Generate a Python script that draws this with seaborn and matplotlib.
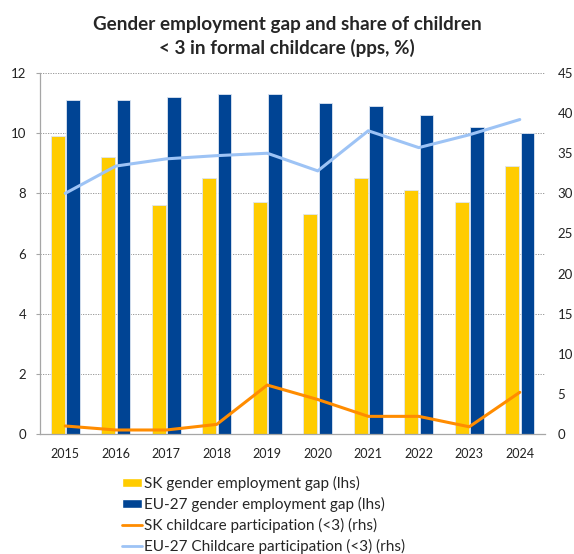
"""
Gender employment gap (bars, lhs) and childcare participation <3 (lines, rhs), SK vs EU-27.
"""

import numpy as np
import pandas as pd
import matplotlib
matplotlib.use("Agg")
import matplotlib.pyplot as plt
from matplotlib.patches import Patch
from matplotlib.lines import Line2D
import seaborn as sns

# ── Data ──────────────────────────────────────────────────────────────────────
years = ["2015", "2016", "2017", "2018", "2019", "2020", "2021", "2022", "2023", "2024"]
sk_gap = [9.9, 9.2, 7.6, 8.5, 7.7, 7.3, 8.5, 8.1, 7.7, 8.9]
eu_gap = [11.1, 11.1, 11.2, 11.3, 11.3, 11.0, 10.9, 10.6, 10.2, 10.0]
sk_care = [1.0, 0.5, 0.5, 1.2, 6.1, 4.3, 2.2, 2.2, 0.9, 5.2]
eu_care = [30.0, 33.4, 34.3, 34.7, 35.0, 32.8, 37.8, 35.7, 37.3, 39.2]

labels = ["SK gender employment gap (lhs)",
          "EU-27 gender employment gap (lhs)",
          "SK childcare participation (<3) (rhs)",
          "EU-27 Childcare participation (<3) (rhs)"]

YELLOW = "#FFCC00"
BLUE = "#004494"
ORANGE = "#FF8C00"
LIGHT = "#9DC3F5"
GREY = "#A6A6A6"

bars = pd.DataFrame({
    "year": years * 2,
    "gap": sk_gap + eu_gap,
    "series": [labels[0]] * len(years) + [labels[1]] * len(years),
})

# ── Theme ─────────────────────────────────────────────────────────────────────
sns.set_theme(style="white")
plt.rcParams["font.family"] = ["Lato", "DejaVu Sans"]

fig = plt.figure(figsize=(5.74, 5.54), dpi=100)
ax = fig.add_axes([0.0697, 0.2166, 0.8798, 0.6516])

sns.barplot(data=bars, x="year", y="gap", hue="series",
            palette=[YELLOW, BLUE], saturation=1, width=0.6, gap=0.1,
            edgecolor="#DDE6F2", linewidth=0.6, legend=False, ax=ax)

ax.set_xlim(-0.5, len(years) - 0.5)
ax.set_ylim(0, 12)
ax.set_yticks(range(0, 13, 2))
ax.yaxis.grid(True, color="#8C8C8C", linestyle=(0, (1.5, 1.5)), linewidth=0.6)
ax.set_axisbelow(True)
ax.set_xlabel("")
ax.set_ylabel("")
for side in ["top", "right"]:
    ax.spines[side].set_visible(False)
for side in ["left", "bottom"]:
    ax.spines[side].set_color(GREY)
    ax.spines[side].set_linewidth(0.9)

ax.tick_params(axis="y", length=3, width=0.8, color=GREY, pad=7,
               labelsize=9.5, labelcolor="#222222")
ax.tick_params(axis="x", which="major", length=0, pad=10,
               labelsize=9, labelcolor="#222222")
ax.set_xticks(np.arange(-0.5, len(years), 1.0), minor=True)
ax.tick_params(axis="x", which="minor", length=4, width=0.8, color=GREY)

# ── Lines on right axis ──────────────────────────────────────────────────────
ax2 = ax.twinx()
xpos = np.arange(len(years))
sns.lineplot(x=xpos, y=sk_care, color=ORANGE, linewidth=2.2, ax=ax2)
sns.lineplot(x=xpos, y=eu_care, color=LIGHT, linewidth=2.2, ax=ax2)
ax2.set_ylim(0, 45)
ax2.set_yticks(range(0, 46, 5))
ax2.set_xlim(-0.5, len(years) - 0.5)
for side in ["top", "right", "left", "bottom"]:
    ax2.spines[side].set_visible(False)
ax2.tick_params(axis="y", length=0, pad=9, labelsize=9.5, labelcolor="#222222")

fig.suptitle("Gender employment gap and share of children\n< 3 in formal childcare (pps, %)",
             x=0.5, y=0.972, fontsize=13.6, fontweight="bold", linespacing=1.45)

handles = [Patch(facecolor=YELLOW), Patch(facecolor=BLUE),
           Line2D([], [], color=ORANGE, linewidth=2),
           Line2D([], [], color=LIGHT, linewidth=2)]
fig.legend(handles, labels, loc="upper left", bbox_to_anchor=(0.212, 0.141),
           frameon=False, fontsize=11, handlelength=1.35, handleheight=0.55,
           handletextpad=0.1, labelspacing=0.4, borderaxespad=0, borderpad=0)

fig.savefig("out.png", dpi=100)
